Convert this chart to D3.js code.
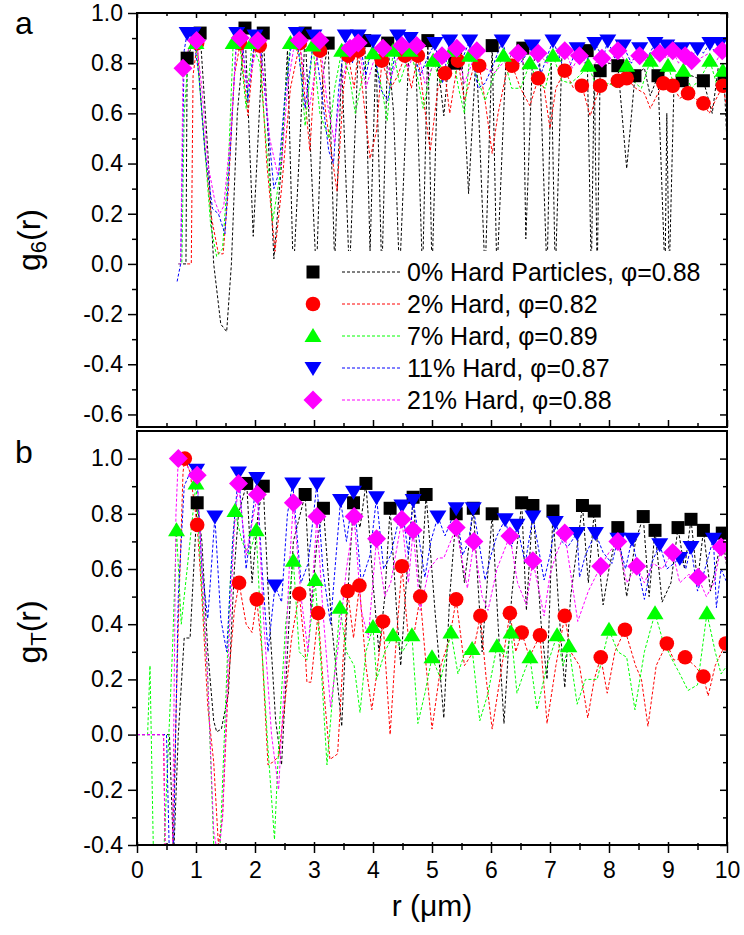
<!DOCTYPE html>
<html>
<head>
<meta charset="utf-8">
<script src="https://cdn.jsdelivr.net/npm/d3@7"></script>
<style>
body { margin: 0; background: #fff; }
svg { display: block; font-family: "Liberation Sans", Arial, sans-serif; }
.axis line { stroke: #000; stroke-width: 1.5px; }
.axis text { font-size: 23px; fill: #000; font-family: "Liberation Sans", Arial, sans-serif; }
.trace { fill: none; stroke-width: 1px; stroke-dasharray: 3,2; }
.frame { fill: none; stroke: #000; stroke-width: 2px; }
</style>
</head>
<body>
<div class="viz"></div>
<script>
// ---- data (r in um, value) ----
var seriesNames = ["0% Hard Particles, \u03c6=0.88", "2% Hard, \u03c6=0.82", "7% Hard, \u03c6=0.89", "11% Hard, \u03c6=0.87", "21% Hard, \u03c6=0.88"];

var xTicks = [0,1,2,3,4,5,6,7,8,9,10];
var xMinorTicks = [0.5,1.5,2.5,3.5,4.5,5.5,6.5,7.5,8.5,9.5];
var yTicksA = [-0.6,-0.4,-0.2,0.0,0.2,0.4,0.6,0.8,1.0];
var yMinorTicksA = [-0.5,-0.3,-0.1,0.1,0.3,0.5,0.7,0.9];
var yTicksB = [-0.4,-0.2,0.0,0.2,0.4,0.6,0.8,1.0];
var yMinorTicksB = [-0.3,-0.1,0.1,0.3,0.5,0.7,0.9];

// panel a : g6(r)
var blackLineA = [[0.78,0],[0.83,0],[0.85,0.82],[0.95,0.88],[1.07,0.92],[1.2,0.45],[1.3,0.0],[1.42,-0.24],[1.52,-0.27],[1.6,0.0],[1.7,0.6],[1.83,0.94],[1.97,0.11],[2.14,0.92],[2.32,0.02],[2.45,0.40],[2.55,0.85],[2.65,-0.05],[2.85,0.92],[3.04,-0.05],[3.15,0.75],[3.24,0.88],[3.35,0.0],[3.47,0.80],[3.6,-0.05],[3.75,0.85],[3.86,0.89],[3.95,0.05],[4.05,0.85],[4.15,-0.05],[4.25,0.88],[4.35,0.60],[4.45,-0.05],[4.6,0.80],[4.72,0.86],[4.84,-0.05],[4.93,0.89],[5.0,-0.05],[5.1,0.80],[5.2,0.59],[5.3,0.85],[5.39,0.80],[5.5,0.85],[5.62,0.28],[5.75,0.85],[5.9,-0.05],[6.02,0.87],[6.1,-0.05],[6.25,0.80],[6.4,0.85],[6.54,0.86],[6.59,0.10],[6.7,0.80],[6.82,0.84],[6.95,-0.05],[7.02,0.80],[7.09,-0.05],[7.2,0.82],[7.35,0.84],[7.5,0.80],[7.63,0.85],[7.7,-0.05],[7.75,0.78],[7.8,-0.05],[7.85,0.77],[8.0,0.80],[8.15,0.79],[8.3,0.38],[8.44,0.75],[8.6,0.78],[8.7,0.67],[8.83,0.75],[8.95,-0.05],[8.98,0.60],[9.02,-0.05],[9.1,0.70],[9.24,0.73],[9.4,0.75],[9.6,0.73],[9.75,0.60],[9.85,0.78],[9.95,0.74],[10.0,0.48]];
var redLineA = [[0.85,0],[0.92,0],[0.95,0.75],[1.02,0.88],[1.1,0.60],[1.25,0.20],[1.38,0.04],[1.46,0.04],[1.55,0.30],[1.65,0.75],[1.75,0.88],[1.88,0.59],[1.98,0.85],[2.08,0.87],[2.2,0.40],[2.34,0.05],[2.45,0.30],[2.6,0.70],[2.76,0.88],[2.93,0.45],[3.02,0.80],[3.1,0.85],[3.2,0.60],[3.39,0.29],[3.5,0.70],[3.58,0.83],[3.68,0.70],[3.75,0.85],[3.82,0.70],[3.95,0.42],[4.06,0.53],[4.15,0.81],[4.3,0.70],[4.42,0.75],[4.54,0.83],[4.65,0.70],[4.76,0.83],[4.97,0.45],[5.1,0.70],[5.22,0.76],[5.3,0.60],[5.44,0.81],[5.55,0.65],[5.7,0.78],[5.8,0.79],[5.9,0.65],[6.02,0.44],[6.12,0.60],[6.25,0.75],[6.36,0.79],[6.5,0.70],[6.66,0.63],[6.8,0.74],[6.9,0.70],[7.0,0.54],[7.1,0.70],[7.25,0.77],[7.4,0.70],[7.54,0.71],[7.68,0.59],[7.85,0.71],[7.95,0.71],[8.15,0.73],[8.3,0.74],[8.45,0.70],[8.6,0.68],[8.7,0.62],[8.92,0.72],[9.08,0.71],[9.2,0.66],[9.34,0.68],[9.45,0.66],[9.6,0.64],[9.7,0.60],[9.8,0.65],[9.93,0.71],[10.0,0.62]];
var greenLineA = [[0.70,0],[0.76,0.0],[0.80,0.60],[0.88,0.86],[1.0,0.88],[1.12,0.55],[1.25,0.15],[1.35,0.03],[1.45,0.06],[1.55,0.40],[1.63,0.88],[1.75,0.86],[1.85,0.62],[1.95,0.88],[2.08,0.80],[2.2,0.45],[2.3,0.17],[2.42,0.35],[2.52,0.70],[2.6,0.88],[2.75,0.84],[2.85,0.55],[2.98,0.87],[3.1,0.60],[3.25,0.50],[3.35,0.70],[3.47,0.85],[3.6,0.75],[3.7,0.60],[3.85,0.78],[4.0,0.84],[4.15,0.70],[4.24,0.57],[4.34,0.85],[4.45,0.72],[4.63,0.85],[4.75,0.75],[4.85,0.62],[5.02,0.81],[5.15,0.72],[5.34,0.85],[5.45,0.70],[5.55,0.60],[5.64,0.83],[5.8,0.72],[5.9,0.65],[6.05,0.75],[6.21,0.83],[6.35,0.70],[6.5,0.70],[6.66,0.80],[6.8,0.72],[6.92,0.70],[7.05,0.83],[7.2,0.73],[7.35,0.72],[7.5,0.75],[7.65,0.79],[7.8,0.70],[8.0,0.72],[8.15,0.70],[8.3,0.79],[8.45,0.72],[8.55,0.70],[8.7,0.81],[8.85,0.72],[9.0,0.79],[9.12,0.70],[9.26,0.77],[9.4,0.70],[9.55,0.74],[9.71,0.81],[9.82,0.72],[9.93,0.77],[10.0,0.75]];
var blueLineA = [[0.68,-0.07],[0.74,0.0],[0.80,0.85],[0.85,0.92],[0.95,0.92],[1.05,0.75],[1.15,0.45],[1.28,0.22],[1.38,0.20],[1.49,0.12],[1.58,0.45],[1.69,0.92],[1.8,0.85],[1.88,0.65],[2.0,0.91],[2.1,0.85],[2.22,0.55],[2.32,0.30],[2.4,0.36],[2.5,0.65],[2.6,0.85],[2.7,0.92],[2.85,0.62],[3.0,0.91],[3.12,0.70],[3.25,0.45],[3.33,0.40],[3.42,0.70],[3.53,0.91],[3.65,0.80],[3.75,0.91],[3.88,0.75],[4.0,0.89],[4.12,0.70],[4.25,0.65],[4.42,0.91],[4.55,0.80],[4.63,0.90],[4.8,0.75],[4.92,0.82],[5.05,0.88],[5.18,0.72],[5.3,0.89],[5.45,0.78],[5.64,0.89],[5.78,0.70],[5.9,0.72],[6.05,0.80],[6.19,0.89],[6.32,0.78],[6.5,0.80],[6.7,0.87],[6.85,0.76],[7.05,0.89],[7.2,0.80],[7.32,0.78],[7.46,0.86],[7.6,0.80],[7.76,0.88],[7.9,0.82],[7.98,0.89],[8.1,0.82],[8.24,0.87],[8.38,0.80],[8.52,0.86],[8.65,0.82],[8.78,0.88],[8.9,0.82],[8.98,0.87],[9.1,0.84],[9.24,0.86],[9.38,0.82],[9.5,0.86],[9.6,0.84],[9.71,0.88],[9.8,0.84],[9.88,0.88],[10.0,0.85]];
var magentaLineA = [[0.70,0.0],[0.74,0.0],[0.78,0.78],[0.88,0.86],[1.01,0.89],[1.1,0.70],[1.2,0.40],[1.32,0.25],[1.4,0.20],[1.47,0.23],[1.58,0.50],[1.68,0.85],[1.75,0.90],[1.88,0.70],[2.05,0.89],[2.15,0.75],[2.25,0.50],[2.38,0.36],[2.45,0.40],[2.55,0.70],[2.65,0.85],[2.75,0.89],[2.92,0.62],[3.1,0.89],[3.22,0.65],[3.35,0.48],[3.45,0.70],[3.61,0.86],[3.75,0.88],[3.88,0.70],[4.0,0.80],[4.17,0.86],[4.3,0.74],[4.49,0.87],[4.6,0.78],[4.74,0.87],[4.88,0.72],[5.0,0.78],[5.17,0.83],[5.3,0.75],[5.42,0.86],[5.55,0.72],[5.76,0.85],[5.9,0.78],[6.05,0.76],[6.2,0.80],[6.32,0.82],[6.46,0.84],[6.6,0.78],[6.8,0.84],[6.95,0.80],[7.1,0.82],[7.25,0.85],[7.38,0.78],[7.5,0.83],[7.65,0.78],[7.88,0.82],[8.0,0.80],[8.15,0.85],[8.3,0.80],[8.52,0.83],[8.68,0.80],[8.86,0.84],[8.98,0.82],[9.08,0.85],[9.18,0.80],[9.29,0.83],[9.4,0.81],[9.55,0.82],[9.7,0.84],[9.8,0.80],[9.92,0.85],[10.0,0.84]];

var blackMarksA = [[0.85,0.82],[1.07,0.92],[1.83,0.94],[2.14,0.92],[2.85,0.92],[3.24,0.88],[3.86,0.89],[4.25,0.88],[4.93,0.89],[5.39,0.80],[6.02,0.87],[6.54,0.86],[7.63,0.85],[7.85,0.77],[8.15,0.79],[8.44,0.75],[8.83,0.75],[9.24,0.73],[9.6,0.73],[9.95,0.74]];
var redMarksA = [[1.02,0.88],[1.75,0.88],[2.08,0.87],[2.76,0.88],[3.1,0.85],[3.58,0.83],[3.75,0.85],[4.15,0.81],[4.54,0.83],[4.76,0.83],[5.22,0.76],[5.44,0.81],[5.8,0.79],[6.36,0.79],[6.8,0.74],[7.25,0.77],[7.54,0.71],[7.85,0.71],[8.15,0.73],[8.3,0.74],[8.92,0.72],[9.08,0.71],[9.34,0.68],[9.6,0.64],[9.93,0.71]];
var greenMarksA = [[1.0,0.88],[1.63,0.88],[1.95,0.88],[2.6,0.88],[2.98,0.87],[3.47,0.85],[4.0,0.84],[4.34,0.85],[4.63,0.85],[5.02,0.81],[5.34,0.85],[5.64,0.83],[6.21,0.83],[6.66,0.80],[7.05,0.83],[7.65,0.79],[8.3,0.79],[8.7,0.81],[9.0,0.79],[9.26,0.77],[9.71,0.81],[9.93,0.77]];
var blueMarksA = [[0.85,0.92],[0.95,0.92],[1.69,0.92],[2.0,0.91],[2.7,0.92],[3.0,0.91],[3.53,0.91],[3.75,0.91],[4.0,0.89],[4.42,0.91],[4.63,0.90],[5.05,0.88],[5.3,0.89],[5.64,0.89],[6.19,0.89],[6.7,0.87],[7.05,0.89],[7.46,0.86],[7.76,0.88],[7.98,0.89],[8.24,0.87],[8.52,0.86],[8.78,0.88],[8.98,0.87],[9.24,0.86],[9.5,0.86],[9.71,0.88],[9.88,0.88]];
var magentaMarksA = [[0.78,0.78],[1.01,0.89],[1.75,0.90],[2.05,0.89],[2.75,0.89],[3.1,0.89],[3.61,0.86],[3.75,0.88],[4.17,0.86],[4.49,0.87],[4.74,0.87],[5.17,0.83],[5.42,0.86],[5.76,0.85],[6.46,0.84],[6.8,0.84],[7.25,0.85],[7.5,0.83],[7.88,0.82],[8.15,0.85],[8.52,0.83],[8.86,0.84],[9.08,0.85],[9.29,0.83],[9.4,0.81],[9.92,0.85]];

// panel b : gT(r)
var blackLineB = [[0,0],[0.55,0.0],[0.62,-0.45],[0.7,0.0],[0.8,0.35],[0.9,0.35],[1.02,0.84],[1.1,0.70],[1.2,0.30],[1.3,0.05],[1.35,0.01],[1.43,0.02],[1.55,0.15],[1.65,0.60],[1.72,0.80],[1.86,0.91],[1.95,0.55],[2.05,0.80],[2.14,0.90],[2.25,0.40],[2.35,0.05],[2.45,-0.11],[2.55,0.30],[2.65,0.70],[2.85,0.87],[2.95,0.45],[3.05,0.70],[3.16,0.82],[3.3,0.40],[3.47,0.03],[3.57,0.50],[3.67,0.84],[3.78,0.75],[3.88,0.91],[4.0,0.55],[4.1,0.30],[4.2,0.50],[4.29,0.82],[4.4,0.45],[4.47,0.25],[4.58,0.60],[4.68,0.86],[4.8,0.50],[4.9,0.87],[5.05,0.45],[5.2,0.06],[5.3,0.50],[5.41,0.80],[5.55,0.55],[5.7,0.82],[5.85,0.30],[6.02,0.80],[6.12,0.40],[6.22,0.04],[6.35,0.50],[6.52,0.84],[6.6,0.45],[6.71,0.83],[6.85,0.40],[6.95,0.20],[7.05,0.81],[7.15,0.45],[7.25,0.17],[7.35,0.50],[7.55,0.83],[7.65,0.55],[7.75,0.81],[7.9,0.47],[8.0,0.60],[8.15,0.75],[8.3,0.50],[8.45,0.70],[8.58,0.79],[8.68,0.50],[8.78,0.74],[8.9,0.48],[9.05,0.55],[9.17,0.75],[9.28,0.60],[9.39,0.78],[9.5,0.55],[9.6,0.74],[9.72,0.52],[9.85,0.65],[9.92,0.73],[10.0,0.60]];
var redLineB = [[0,0],[0.45,0],[0.48,-0.45],[0.6,-0.45],[0.7,0.40],[0.78,0.95],[0.81,1.0],[0.9,0.95],[1.02,0.76],[1.1,0.50],[1.2,0.10],[1.3,-0.10],[1.38,-0.40],[1.45,-0.30],[1.55,0.20],[1.65,0.45],[1.73,0.55],[1.85,0.40],[1.95,0.37],[2.03,0.49],[2.12,0.30],[2.22,-0.11],[2.3,-0.10],[2.4,-0.08],[2.5,0.10],[2.62,0.35],[2.75,0.51],[2.85,0.30],[2.88,0.19],[2.95,0.19],[3.07,0.44],[3.15,0.20],[3.27,-0.09],[3.4,-0.07],[3.5,0.30],[3.57,0.52],[3.67,0.35],[3.77,0.54],[3.88,0.25],[3.98,0.09],[4.05,0.20],[4.17,0.41],[4.29,0.0],[4.38,0.30],[4.49,0.61],[4.6,0.35],[4.7,0.37],[4.8,0.50],[4.9,0.25],[5.0,0.02],[5.15,0.25],[5.3,0.35],[5.41,0.49],[5.55,0.25],[5.7,0.30],[5.82,0.43],[5.92,0.20],[6.02,0.02],[6.15,0.20],[6.32,0.44],[6.42,0.30],[6.52,0.37],[6.65,0.28],[6.83,0.36],[6.95,0.04],[7.1,0.25],[7.25,0.43],[7.35,0.30],[7.5,0.25],[7.64,0.06],[7.75,0.20],[7.86,0.28],[7.97,0.15],[8.1,0.30],[8.27,0.38],[8.45,0.25],[8.55,0.20],[8.66,0.03],[8.8,0.25],[8.98,0.33],[9.1,0.27],[9.29,0.28],[9.45,0.25],[9.6,0.21],[9.68,0.14],[9.8,0.25],[9.98,0.33],[10.0,0.30]];
var greenLineB = [[0,0],[0.18,0.0],[0.22,0.25],[0.28,-0.45],[0.45,-0.45],[0.6,0.30],[0.67,0.74],[0.75,0.40],[0.85,0.60],[1.0,0.91],[1.08,0.60],[1.2,0.20],[1.3,-0.40],[1.4,-0.45],[1.5,0.10],[1.58,0.55],[1.66,0.81],[1.78,0.70],[1.9,0.65],[2.02,0.74],[2.12,0.30],[2.22,-0.05],[2.33,-0.38],[2.42,0.05],[2.52,0.40],[2.65,0.63],[2.75,0.30],[2.88,0.27],[3.02,0.56],[3.12,0.25],[3.22,-0.11],[3.32,0.15],[3.44,0.46],[3.55,0.30],[3.68,0.25],[3.78,0.08],[3.88,0.30],[4.0,0.39],[4.06,0.20],[4.2,0.30],[4.34,0.36],[4.5,0.30],[4.66,0.36],[4.76,0.04],[4.88,0.15],[5.0,0.28],[5.15,0.20],[5.32,0.37],[5.44,0.22],[5.56,0.30],[5.68,0.31],[5.81,0.05],[5.95,0.15],[6.1,0.32],[6.25,0.28],[6.34,0.37],[6.44,0.15],[6.55,0.22],[6.66,0.28],[6.78,0.09],[6.95,0.25],[7.12,0.36],[7.22,0.25],[7.32,0.32],[7.46,0.11],[7.6,0.20],[7.8,0.20],[8.0,0.38],[8.15,0.30],[8.3,0.28],[8.44,0.09],[8.6,0.30],[8.78,0.44],[8.9,0.35],[9.05,0.28],[9.2,0.22],[9.34,0.16],[9.5,0.18],[9.66,0.44],[9.8,0.30],[9.9,0.22],[10.0,0.25]];
var blueLineB = [[0,0],[0.5,0],[0.55,-0.45],[0.62,-0.40],[0.7,0.50],[0.8,0.90],[0.9,0.95],[1.01,0.96],[1.1,0.60],[1.2,0.42],[1.32,0.79],[1.42,0.42],[1.52,0.30],[1.62,0.70],[1.72,0.95],[1.85,0.60],[2.03,0.93],[2.12,0.60],[2.22,0.30],[2.34,0.54],[2.45,0.48],[2.55,0.80],[2.64,0.91],[2.78,0.55],[2.9,0.62],[3.05,0.91],[3.15,0.60],[3.28,0.40],[3.45,0.85],[3.55,0.70],[3.67,0.88],[3.8,0.55],[3.95,0.65],[4.06,0.86],[4.18,0.60],[4.3,0.65],[4.49,0.83],[4.6,0.65],[4.68,0.85],[4.88,0.57],[4.98,0.70],[5.1,0.79],[5.22,0.72],[5.41,0.82],[5.52,0.65],[5.62,0.70],[5.7,0.82],[5.9,0.56],[6.0,0.65],[6.1,0.72],[6.24,0.78],[6.35,0.68],[6.44,0.76],[6.58,0.62],[6.71,0.79],[6.9,0.56],[7.0,0.65],[7.09,0.77],[7.2,0.70],[7.3,0.68],[7.46,0.73],[7.5,0.57],[7.6,0.65],[7.77,0.73],[7.9,0.66],[8.05,0.62],[8.15,0.71],[8.28,0.60],[8.39,0.71],[8.6,0.49],[8.72,0.62],[8.86,0.69],[8.98,0.60],[9.1,0.62],[9.2,0.64],[9.3,0.60],[9.39,0.68],[9.5,0.52],[9.6,0.58],[9.77,0.71],[9.82,0.46],[9.9,0.60],[10.0,0.55]];
var magentaLineB = [[0,0],[0.45,0],[0.48,-0.45],[0.6,-0.45],[0.66,0.80],[0.7,1.0],[0.8,0.98],[0.9,0.96],[1.02,0.94],[1.1,0.60],[1.2,0.20],[1.3,-0.35],[1.38,-0.45],[1.45,-0.30],[1.55,0.30],[1.65,0.75],[1.72,0.91],[1.85,0.65],[2.04,0.87],[2.15,0.40],[2.28,0.0],[2.4,-0.20],[2.5,0.20],[2.58,0.60],[2.65,0.84],[2.78,0.50],[2.9,0.30],[3.05,0.79],[3.15,0.45],[3.28,0.10],[3.4,0.30],[3.55,0.60],[3.68,0.79],[3.8,0.45],[3.92,0.35],[4.06,0.71],[4.2,0.50],[4.3,0.55],[4.49,0.78],[4.6,0.55],[4.68,0.74],[4.8,0.45],[4.95,0.60],[5.1,0.64],[5.2,0.64],[5.41,0.75],[5.6,0.53],[5.71,0.70],[5.85,0.50],[5.95,0.45],[6.1,0.60],[6.32,0.72],[6.45,0.55],[6.6,0.47],[6.71,0.63],[6.9,0.43],[7.0,0.58],[7.1,0.65],[7.25,0.73],[7.47,0.41],[7.65,0.52],[7.86,0.61],[8.0,0.66],[8.15,0.70],[8.3,0.55],[8.47,0.61],[8.6,0.55],[8.75,0.62],[8.9,0.60],[9.08,0.66],[9.2,0.55],[9.35,0.58],[9.51,0.57],[9.65,0.50],[9.78,0.55],[9.9,0.68],[10.0,0.62]];

var blackMarksB = [[1.02,0.84],[1.86,0.91],[2.14,0.90],[2.85,0.87],[3.16,0.82],[3.67,0.84],[3.88,0.91],[4.29,0.82],[4.68,0.86],[4.9,0.87],[5.41,0.80],[5.7,0.82],[6.02,0.80],[6.52,0.84],[6.71,0.83],[7.05,0.81],[7.55,0.83],[7.75,0.81],[8.15,0.75],[8.58,0.79],[8.78,0.74],[9.17,0.75],[9.39,0.78],[9.6,0.74],[9.92,0.73]];
var redMarksB = [[0.81,1.0],[1.02,0.76],[1.73,0.55],[2.03,0.49],[2.75,0.51],[3.07,0.44],[3.57,0.52],[3.77,0.54],[4.17,0.41],[4.49,0.61],[4.8,0.50],[5.41,0.49],[5.82,0.43],[6.32,0.44],[6.52,0.37],[6.83,0.36],[7.25,0.43],[7.86,0.28],[8.27,0.38],[8.98,0.33],[9.29,0.28],[9.6,0.21],[9.98,0.33]];
var greenMarksB = [[0.67,0.74],[1.0,0.91],[1.66,0.81],[2.02,0.74],[2.65,0.63],[3.02,0.56],[3.44,0.46],[4.0,0.39],[4.34,0.36],[4.66,0.36],[5.0,0.28],[5.32,0.37],[5.68,0.31],[6.1,0.32],[6.34,0.37],[6.66,0.28],[7.12,0.36],[7.32,0.32],[8.0,0.38],[8.78,0.44],[9.66,0.44]];
var blueMarksB = [[1.01,0.96],[1.32,0.79],[1.72,0.95],[2.03,0.93],[2.34,0.54],[2.64,0.91],[3.05,0.91],[3.45,0.85],[3.67,0.88],[4.06,0.86],[4.49,0.83],[4.68,0.85],[5.1,0.79],[5.41,0.82],[5.7,0.82],[6.24,0.78],[6.44,0.76],[6.71,0.79],[7.09,0.77],[7.46,0.73],[7.77,0.73],[8.15,0.71],[8.39,0.71],[8.86,0.69],[9.2,0.64],[9.39,0.68],[9.77,0.71]];
var magentaMarksB = [[0.7,1.0],[1.02,0.94],[1.72,0.91],[2.04,0.87],[2.65,0.84],[3.05,0.79],[3.68,0.79],[4.06,0.71],[4.49,0.78],[4.68,0.74],[5.41,0.75],[5.71,0.70],[6.32,0.72],[6.71,0.63],[7.25,0.73],[7.86,0.61],[8.15,0.70],[8.47,0.61],[9.08,0.66],[9.51,0.57],[9.9,0.68]];

// ---- styles ----
var colors = ["#000000", "#ff0000", "#00ff00", "#0000ff", "#ff00ff"];
var shapes = ["square", "circle", "triangle", "triangleDown", "diamond"];

function shapePath(kind) {
    if (kind == "square") return "M-6.5,-6.5h13v13h-13z";
    if (kind == "circle") return "M7.3,0A7.3,7.3 0 1,1 -7.3,0A7.3,7.3 0 1,1 7.3,0Z";
    if (kind == "triangle") return "M0,-8L8.5,6L-8.5,6Z";
    if (kind == "triangleDown") return "M0,8L8.5,-6L-8.5,-6Z";
    return "M0,-9.5L9.5,0L0,9.5L-9.5,0Z";
}

var width = 744, height = 935;
var left = 137, right = 727;

var x = d3.scaleLinear().domain([0, 10]).range([left, right]);
var yA = d3.scaleLinear().domain([-0.65, 1.0]).range([427, 13]);
var yB = d3.scaleLinear().domain([-0.4, 1.1]).range([845, 431]);

var svg = d3.select('.viz').append('svg')
    .attr('width', width)
    .attr('height', height);

var defs = svg.append('defs');

function fmt(d) { return d.toFixed(1); }

function drawPanel(id, y, lines, marks, yTicks, yMinor, isBottom) {
    var top = y.range()[1], bottom = y.range()[0];

    defs.append('clipPath').attr('id', 'clip-' + id)
        .append('rect')
        .attr('x', left).attr('y', top)
        .attr('width', right - left).attr('height', bottom - top);

    var line = d3.line()
        .x(function(d) { return x(d[0]); })
        .y(function(d) { return y(d[1]); });

    var plot = svg.append('g').attr('clip-path', 'url(#clip-' + id + ')');

    plot.selectAll('path.trace')
        .data(lines)
        .enter().append('path')
        .attr('class', 'trace')
        .attr('stroke', function(d, i) { return colors[i]; })
        .attr('d', line);

    // legend background hides the dips under it in panel a
    if (id == 'a') {
        plot.append('rect')
            .attr('x', 283).attr('y', 251)
            .attr('width', right - 283).attr('height', 175)
            .attr('fill', '#fff');
    }

    marks.forEach(function(set, i) {
        plot.append('g').selectAll('path')
            .data(set)
            .enter().append('path')
            .attr('d', shapePath(shapes[i]))
            .attr('fill', colors[i])
            .attr('transform', function(d) { return 'translate(' + x(d[0]) + ',' + y(d[1]) + ')'; });
    });

    // left axis
    var gl = svg.append('g').attr('class', 'axis').attr('transform', 'translate(' + left + ',0)');
    gl.call(d3.axisLeft(y).tickValues(yTicks).tickSize(9).tickPadding(5).tickFormat(fmt));
    gl.append('g').call(d3.axisLeft(y).tickValues(yMinor).tickSize(5).tickFormat(''));
    // right axis, ticks inside
    var gr = svg.append('g').attr('class', 'axis').attr('transform', 'translate(' + right + ',0)');
    gr.call(d3.axisRight(y).tickValues(yTicks).tickSize(-7).tickFormat(''));
    gr.append('g').call(d3.axisRight(y).tickValues(yMinor).tickSize(-4).tickFormat(''));

    if (id == 'a') {
        var gt = svg.append('g').attr('class', 'axis').attr('transform', 'translate(0,' + top + ')');
        gt.call(d3.axisTop(x).tickValues(xTicks).tickSize(-5).tickFormat(''));
        gt.append('g').call(d3.axisTop(x).tickValues(xMinorTicks).tickSize(-3).tickFormat(''));
        var gb = svg.append('g').attr('class', 'axis').attr('transform', 'translate(0,' + bottom + ')');
        gb.call(d3.axisBottom(x).tickValues(xTicks).tickSize(-7).tickFormat(''));
        gb.append('g').call(d3.axisBottom(x).tickValues(xMinorTicks).tickSize(-4).tickFormat(''));
    }
    if (isBottom) {
        var gx = svg.append('g').attr('class', 'axis').attr('transform', 'translate(0,' + bottom + ')');
        gx.call(d3.axisBottom(x).tickValues(xTicks).tickSize(8).tickPadding(9).tickFormat(function(d) { return d; }));
        gx.selectAll('.tick line').attr('y1', -3);
        var gm = gx.append('g').call(d3.axisBottom(x).tickValues(xMinorTicks).tickSize(5).tickFormat(''));
        gm.selectAll('.tick line').attr('y1', -2);
    }
    svg.selectAll('.axis .domain').remove();

    svg.append('rect')
        .attr('class', 'frame')
        .attr('x', left).attr('y', top)
        .attr('width', right - left).attr('height', bottom - top);
}

drawPanel('a', yA,
    [blackLineA, redLineA, greenLineA, blueLineA, magentaLineA],
    [blackMarksA, redMarksA, greenMarksA, blueMarksA, magentaMarksA],
    yTicksA, yMinorTicksA, false);

drawPanel('b', yB,
    [blackLineB, redLineB, greenLineB, blueLineB, magentaLineB],
    [blackMarksB, redMarksB, greenMarksB, blueMarksB, magentaMarksB],
    yTicksB, yMinorTicksB, true);

// legend
var legend = svg.append('g').attr('transform', 'translate(313,272)');
var item = legend.selectAll('g')
    .data(seriesNames)
    .enter().append('g')
    .attr('transform', function(d, i) { return 'translate(0,' + (i * 32) + ')'; });
item.append('path')
    .attr('d', function(d, i) { return shapePath(shapes[i]); })
    .attr('fill', function(d, i) { return colors[i]; });
item.append('line')
    .attr('class', 'trace')
    .attr('x1', 29).attr('x2', 88)
    .attr('stroke', function(d, i) { return colors[i]; });
item.append('text')
    .attr('x', 94).attr('y', 9)
    .style('font-size', '25px')
    .text(function(d) { return d; });

// labels
svg.append('text').attr('x', 15).attr('y', 34).style('font-size', '32px').text('a');
svg.append('text').attr('x', 15).attr('y', 463).style('font-size', '32px').text('b');

var ya = svg.append('text')
    .attr('transform', 'translate(40,240) rotate(-90)')
    .attr('text-anchor', 'middle')
    .style('font-size', '32px');
ya.append('tspan').text('g');
ya.append('tspan').attr('baseline-shift', '-25%').style('font-size', '22px').text('6');
ya.append('tspan').text('(r)');

var yb = svg.append('text')
    .attr('transform', 'translate(40,632) rotate(-90)')
    .attr('text-anchor', 'middle')
    .style('font-size', '32px');
yb.append('tspan').text('g');
yb.append('tspan').attr('baseline-shift', '-25%').style('font-size', '22px').text('T');
yb.append('tspan').text('(r)');

svg.append('text')
    .attr('x', (left + right) / 2).attr('y', 916)
    .attr('text-anchor', 'middle')
    .style('font-size', '30px')
    .text('r (\u03bcm)');
</script>
</body>
</html>
